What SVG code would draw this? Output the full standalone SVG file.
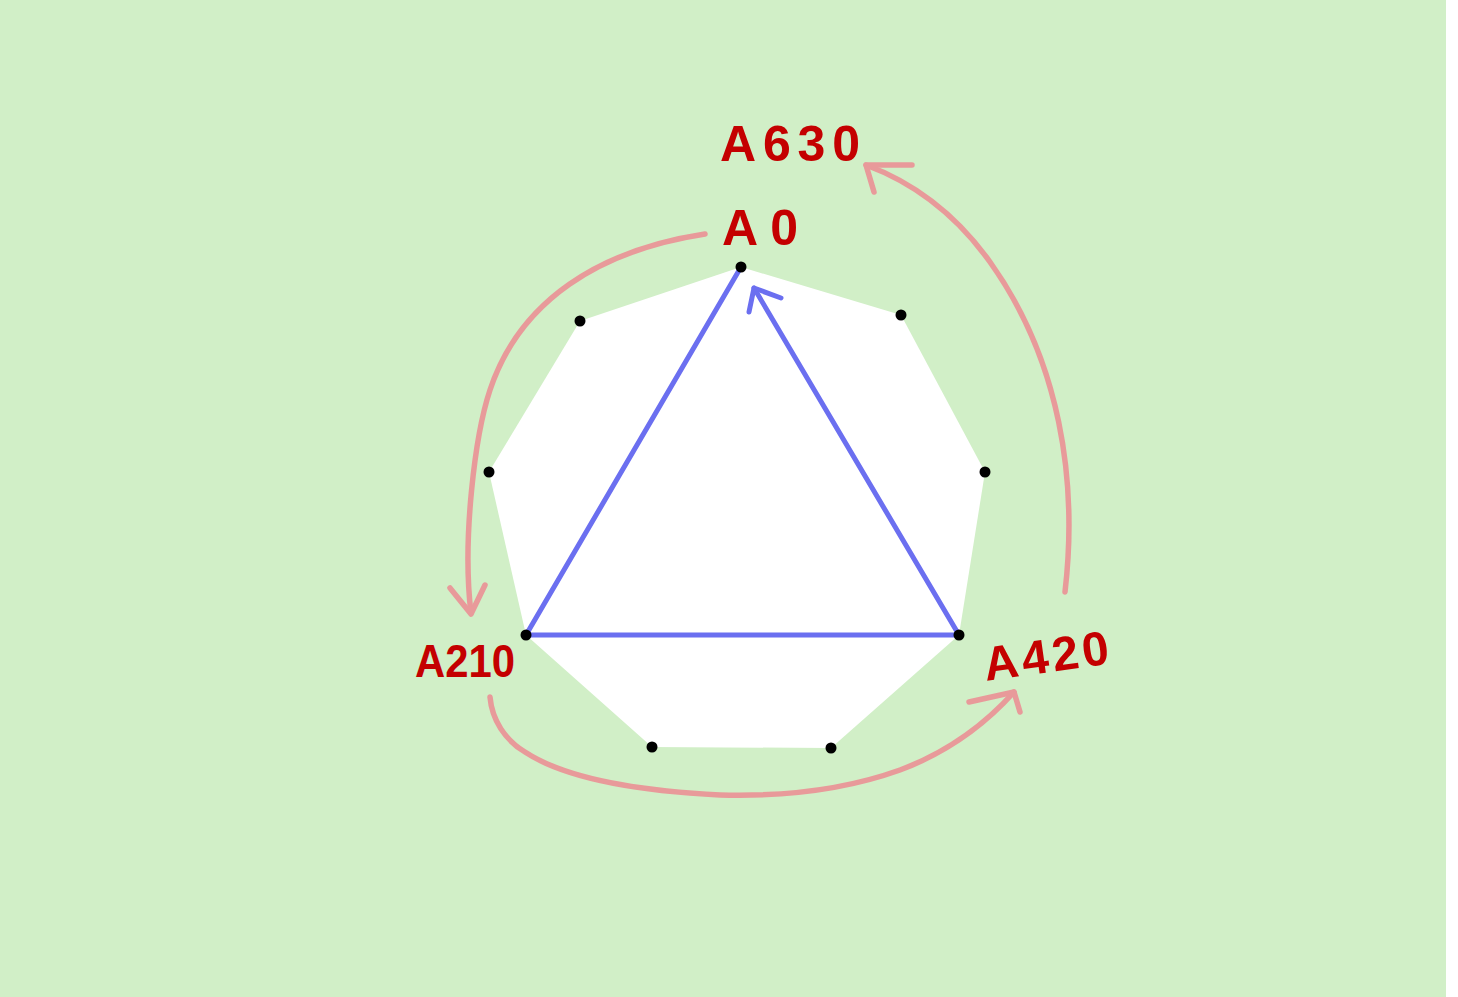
<svg xmlns="http://www.w3.org/2000/svg" width="1458" height="997" viewBox="0 0 1458 997">
<defs>
<style>
.lbl{font-family:"Liberation Sans",Arial,sans-serif;font-weight:bold;fill:#c40000;}
.red{fill:none;stroke:#e89a9a;stroke-width:5.5;stroke-linecap:round;stroke-linejoin:round;}
.blue{fill:none;stroke:#6b6ff0;stroke-width:5;stroke-linecap:round;stroke-linejoin:round;}
.dot{fill:#000;}
</style>
</defs>
<rect x="0" y="0" width="1458" height="997" fill="#ffffff"/>
<rect x="0" y="0" width="1446" height="997" fill="#d1efc7"/>
<g id="nonagon">
<polygon points="741,267 901,315 985,472 959,635 831,748 652,747 526,635 489,472 580,321" fill="#ffffff"/>
</g>
<g id="connectors">
<g id="triangle">
<polyline class="blue" points="741,267 526,635 959,635 754,288"/>
<polyline class="blue" points="749,312 754,288 781,298"/>
</g>
<g id="arrow-a0-a210">
<path class="red" d="M705,234 C600,250 520,300 490,390 C475,435 462,540 471,613"/>
<polyline class="red" points="450,588 471,614 485,585"/>
</g>
<g id="arrow-a420-a630">
<path class="red" d="M1065,592 C1078,480 1060,360 990,262 C960,220 920,185 866,165"/>
<polyline class="red" points="912,165 866,165 874,192"/>
</g>
<g id="arrow-a210-a420">
<path class="red" d="M490,697 C492,720 505,740 525,752 C560,775 620,790 720,795 C790,797 850,788 900,770 C940,755 980,730 1014,692"/>
<polyline class="red" points="969,702 1014,692 1020,712"/>
</g>
</g>
<g id="dots">
<circle class="dot" cx="741" cy="267" r="5.5"/>
<circle class="dot" cx="901" cy="315" r="5.5"/>
<circle class="dot" cx="985" cy="472" r="5.5"/>
<circle class="dot" cx="959" cy="635" r="5.5"/>
<circle class="dot" cx="831" cy="748" r="5.5"/>
<circle class="dot" cx="652" cy="747" r="5.5"/>
<circle class="dot" cx="526" cy="635" r="5.5"/>
<circle class="dot" cx="489" cy="472" r="5.5"/>
<circle class="dot" cx="580" cy="321" r="5.5"/>
</g>
<g id="label-a630"><text class="lbl" x="720" y="161" font-size="50" textLength="140" lengthAdjust="spacing">A630</text></g>
<g id="label-a0"><text class="lbl" x="722" y="245" font-size="50" textLength="76" lengthAdjust="spacing">A0</text></g>
<g id="label-a210"><text class="lbl" x="415" y="677" font-size="46" textLength="100" lengthAdjust="spacingAndGlyphs">A210</text></g>
<g id="label-a420"><text class="lbl" x="986" y="681" font-size="48" textLength="126" lengthAdjust="spacing" transform="rotate(-8 986 681)">A420</text></g>
</svg>
